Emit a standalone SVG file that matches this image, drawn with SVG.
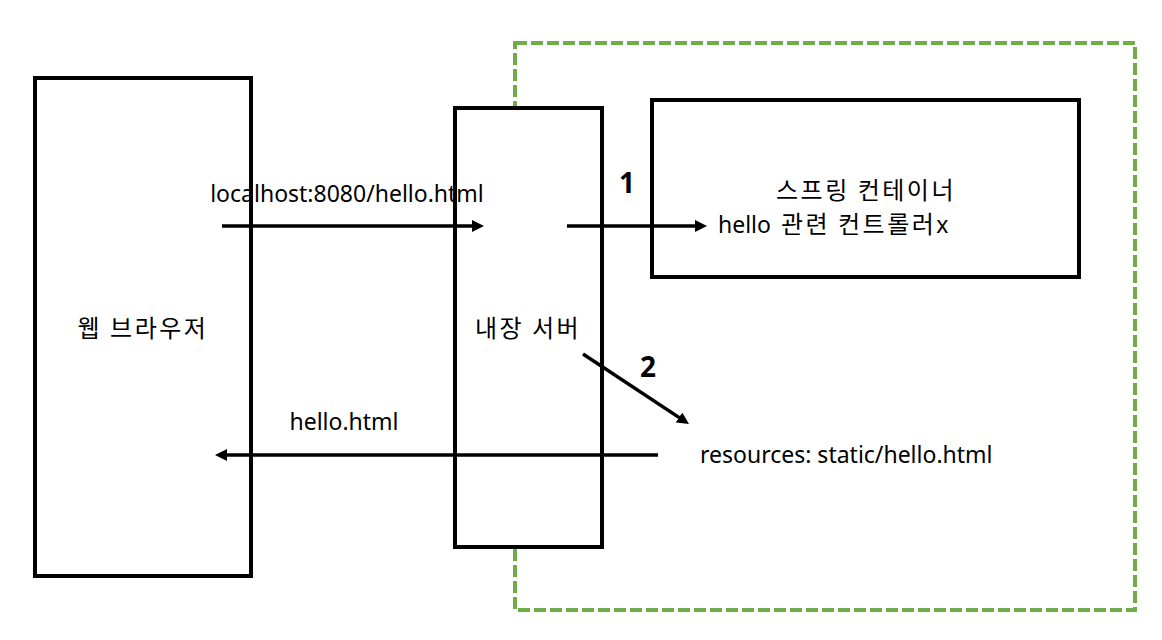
<svg xmlns="http://www.w3.org/2000/svg" width="1162" height="640" viewBox="0 0 1162 640">
<defs>
<style>
.box{fill:none;stroke:#000;stroke-width:4}
.solid{fill:#fff}
.area{fill:none;stroke:#70AD47;stroke-width:4;stroke-dasharray:12 4}
.conn{stroke:#000;stroke-width:3.5;fill:none;marker-end:url(#ah)}
text{font-family:"Noto Sans","Noto Sans CJK KR",sans-serif;font-size:23px;fill:#000}
.ko{font-family:"Noto Sans CJK KR","Noto Sans",sans-serif;font-size:24px;letter-spacing:2.5px}
.num{font-weight:bold;font-size:28px}
</style>
<marker id="ah" markerUnits="userSpaceOnUse" markerWidth="12" markerHeight="12" refX="4" refY="6" orient="auto">
<path d="M0,0 L12,6 L0,12 z" fill="#000"/>
</marker>
</defs>
<rect width="1162" height="640" fill="#fff"/>
<g id="server-area">
<rect class="area" x="515" y="43" width="620" height="567"/>
</g>
<g id="web-browser">
<rect class="box" x="35" y="78" width="216" height="498"/>
<text class="ko" x="143" y="337" text-anchor="middle">웹 브라우저</text>
</g>
<g id="embedded-server">
<rect class="box solid" x="455" y="108" width="147" height="439"/>
<text class="ko" x="528" y="337" text-anchor="middle">내장 서버</text>
</g>
<g id="spring-container">
<rect class="box" x="652" y="100" width="427" height="177"/>
<text class="ko" x="866" y="199" text-anchor="middle">스프링 컨테이너</text>
<text x="718" y="233">hello <tspan class="ko" dx="4">관련 컨트롤러</tspan>x</text>
</g>
<g id="static-resource">
<text x="700" y="463">resources: static/hello.html</text>
</g>
<g id="connectors">
<line class="conn" x1="222" y1="226" x2="476" y2="226"/>
<line class="conn" x1="567" y1="226" x2="699" y2="226"/>
<line class="conn" x1="583" y1="354" x2="682.3" y2="419.6"/>
<line class="conn" x1="658" y1="455" x2="223" y2="455"/>
<text x="347" y="202" text-anchor="middle">localhost:8080/hello.html</text>
<text class="num" x="627" y="193" text-anchor="middle">1</text>
<text class="num" x="648" y="377" text-anchor="middle">2</text>
<text x="344" y="430" text-anchor="middle">hello.html</text>
</g>
</svg>
